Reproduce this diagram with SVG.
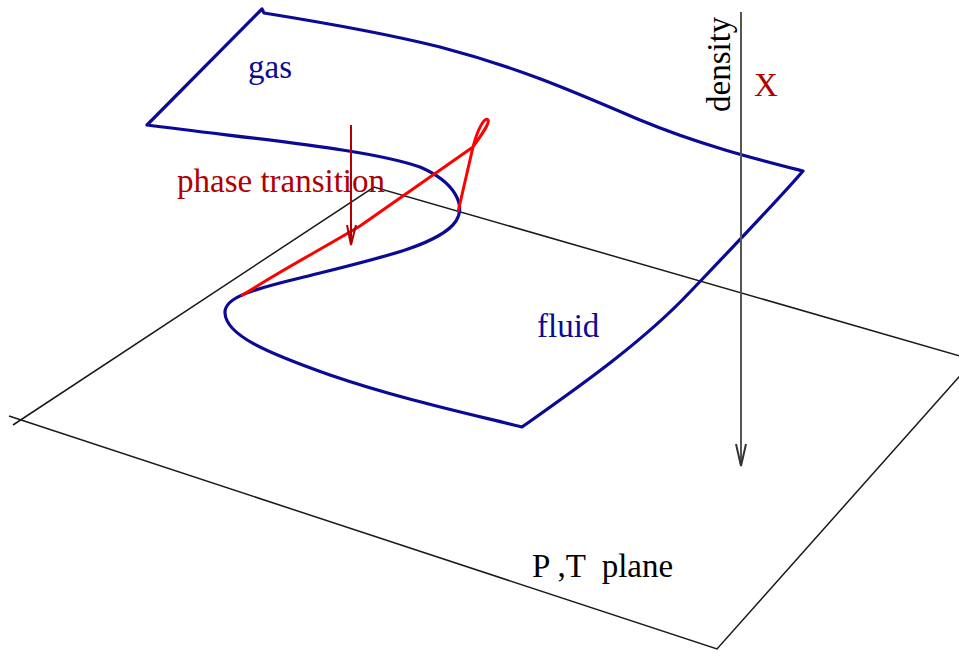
<svg xmlns="http://www.w3.org/2000/svg" width="959" height="653" viewBox="0 0 959 653">
<style>
.plane{fill:none;stroke:#1a1a1a;stroke-width:1.5}
.surf{fill:none;stroke:#0a0a96;stroke-width:3.2;stroke-linejoin:round}
.red{fill:none;stroke:#ff0000;stroke-width:3;stroke-linejoin:round}
.txt{font-family:"Liberation Serif","Times New Roman",serif;font-size:33px}
.blue{fill:#0a0a96}
.dred{fill:#b00000}
</style>
<rect width="959" height="653" fill="#ffffff"/>
<g id="plane">
<path class="plane" d="M974,360 L374,187 L13,425"/>
<path class="plane" d="M9,416 L717,649 L974,360"/>
</g>
<g id="surface">
<path class="surf" d="M262,9 L147,125 C280,142 370,150 420,167 C455,182 466,205 456,221 C440,245 380,258 300,278 C250,290 224,298 225,313 C226,335 265,352 330,375 C400,399 470,414 522,427 C570,393 640,345 690,292 C730,250 780,198 803,171 C760,160 700,145 640,120 C570,90 520,68 440,47 C380,32 320,22 264,13 Z"/>
</g>
<g id="transition">
<path class="red" d="M241,296 C285,268 320,250 360,226 L473,147 C482,134 490,123 488,120 C485,116 478,128 473,147 L458,212"/>
<path d="M351,125 L351,244" fill="none" stroke="#b00000" stroke-width="2"/>
<path d="M347,225 L351,245 L356,225" fill="none" stroke="#b00000" stroke-width="2"/>
</g>
<g id="axis">
<path d="M741,12 L741,465" fill="none" stroke="#555555" stroke-width="2"/>
<path d="M736,444 L741,466 L746,444" fill="none" stroke="#333333" stroke-width="2"/>
</g>
<g id="labels">
<text class="txt blue" x="248" y="78">gas</text>
<text class="txt blue" x="537" y="337">fluid</text>
<text class="txt dred" x="177" y="192">phase transition</text>
<text class="txt dred" x="754" y="96">X</text>
<text class="txt" x="0" y="0" transform="translate(730,112) rotate(-90)">density</text>
<text class="txt" x="532" y="577" style="white-space:pre">P ,T  plane</text>
</g>
</svg>
